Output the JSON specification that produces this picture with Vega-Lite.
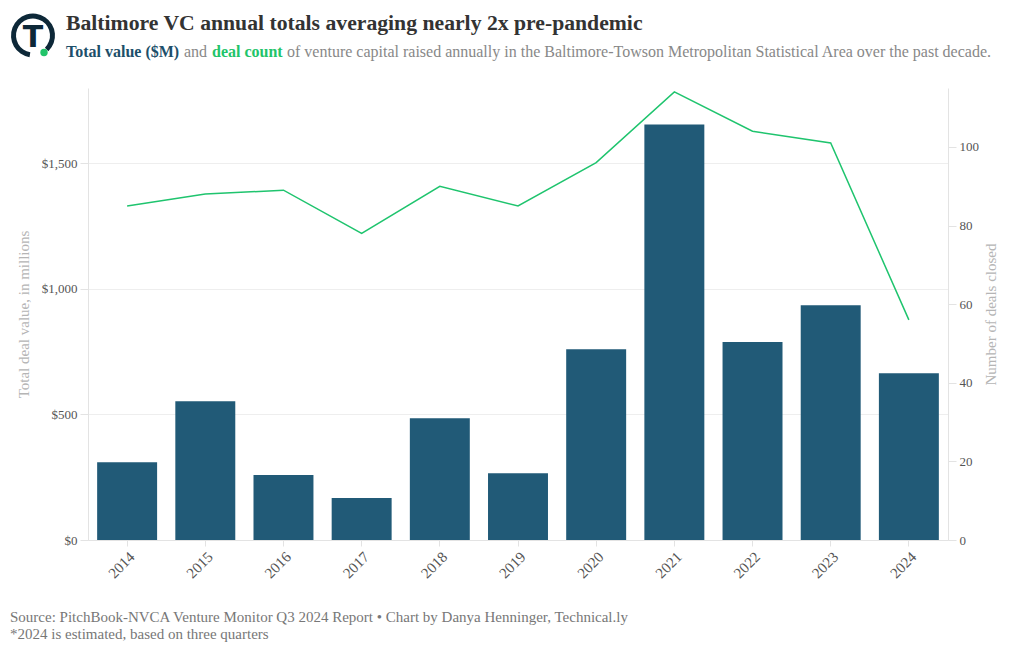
{
  "$schema": "https://vega.github.io/schema/vega-lite/v6.json",
  "padding": {"left": 10, "top": 12, "right": 12, "bottom": 4},
  "config": {
    "view": {"stroke": null},
    "font": "Liberation Serif",
    "axis": {"labelFont": "Liberation Serif", "titleFont": "Liberation Serif", "labelColor": "#555555", "titleColor": "#b5b5b5", "labelFontSize": 13, "titleFontSize": 15, "titleFontWeight": "normal", "domainColor": "#e3e3e3", "tickColor": "#e3e3e3", "gridColor": "#eeeeee"},
    "title": {"font": "Liberation Serif"}
  },
  "title": {
    "text": ["Source: PitchBook-NVCA Venture Monitor Q3 2024 Report • Chart by Danya Henninger, Technical.ly", "*2024 is estimated, based on three quarters"],
    "orient": "bottom", "anchor": "start", "fontSize": 15, "fontWeight": "normal", "color": "#777777", "offset": 29, "lineHeight": 17
  },
  "columns": 1,
  "spacing": 11,
  "concat": [
    {
      "spacing": 10,
      "hconcat": [
        {
          "width": 46, "height": 1,
          "data": {"values": [{}]},
          "layer": [
            {"mark": {"type": "arc", "radius": 22, "radius2": 17, "theta": 3.3, "theta2": 8.65, "color": "#0d2838", "yOffset": -2}, "encoding": {}},
            {"mark": {"type": "text", "text": "T", "font": "DejaVu Sans", "fontWeight": "bold", "fontSize": 30, "color": "#0d2838", "baseline": "middle", "align": "center", "dy": 0}, "encoding": {}},
            {"mark": {"type": "point", "filled": true, "size": 55, "color": "#22c46a", "opacity": 1, "xOffset": 11, "yOffset": 15}, "encoding": {}}
          ]
        },
        {
          "spacing": 0,
          "vconcat": [
            {"width": 1, "height": 1, "data": {"values": [{}]}, "mark": "text", "encoding": {"text": {"value": ""}},
             "title": {"text": "Baltimore VC annual totals averaging nearly 2x pre-pandemic", "fontSize": 21.7, "fontWeight": "bold", "color": "#333333", "anchor": "start", "offset": -3}},
            {
              "spacing": 4,
              "hconcat": [
                {"width": 1, "height": 1, "data": {"values": [{}]}, "mark": "text", "encoding": {"text": {"value": ""}},
                 "title": {"text": "Total value ($M)", "fontSize": 16, "fontWeight": "bold", "color": "#1d4f6a", "anchor": "start", "offset": 0}},
                {"width": 1, "height": 1, "data": {"values": [{}]}, "mark": "text", "encoding": {"text": {"value": ""}},
                 "title": {"text": "and", "fontSize": 16, "fontWeight": "normal", "color": "#888888", "anchor": "start", "offset": 0}},
                {"width": 1, "height": 1, "data": {"values": [{}]}, "mark": "text", "encoding": {"text": {"value": ""}},
                 "title": {"text": "deal count", "fontSize": 16, "fontWeight": "bold", "color": "#22c46a", "anchor": "start", "offset": 0}},
                {"width": 1, "height": 1, "data": {"values": [{}]}, "mark": "text", "encoding": {"text": {"value": ""}},
                 "title": {"text": "of venture capital raised annually in the Baltimore-Towson Metropolitan Statistical Area over the past decade.", "fontSize": 16, "fontWeight": "normal", "color": "#888888", "anchor": "start", "offset": 0}}
              ]
            }
          ]
        }
      ]
    },
    {
      "spacing": 5,
      "hconcat": [
        {"width": 1, "height": 1, "data": {"values": [{}]}, "mark": "text", "encoding": {"text": {"value": ""}}},
        {
          "width": 860, "height": 452,
          "data": {"values": [
            {"year": "2014", "value": 310, "deals": 85},
            {"year": "2015", "value": 553, "deals": 88},
            {"year": "2016", "value": 259, "deals": 89},
            {"year": "2017", "value": 167, "deals": 78},
            {"year": "2018", "value": 485, "deals": 90},
            {"year": "2019", "value": 266, "deals": 85},
            {"year": "2020", "value": 760, "deals": 96},
            {"year": "2021", "value": 1655, "deals": 114},
            {"year": "2022", "value": 788, "deals": 104},
            {"year": "2023", "value": 935, "deals": 101},
            {"year": "2024", "value": 664, "deals": 56}
          ]},
          "encoding": {
            "x": {"field": "year", "type": "ordinal", "scale": {"paddingInner": 0.233, "paddingOuter": 0.117},
                  "axis": {"title": null, "labelAngle": -45, "labelFontSize": 15, "tickSize": 6, "labelPadding": 3}}
          },
          "layer": [
            {"mark": {"type": "bar", "color": "#215a77"},
             "encoding": {"y": {"field": "value", "type": "quantitative", "scale": {"domain": [0, 1800]},
               "axis": {"title": "Total deal value, in millions", "values": [0, 500, 1000, 1500], "format": "$,.0f", "tickSize": 8, "titlePadding": 10, "labelPadding": 3}}}},
            {"mark": {"type": "line", "color": "#1fc46e", "strokeWidth": 1.5},
             "encoding": {"y": {"field": "deals", "type": "quantitative", "scale": {"domain": [0, 115]},
               "axis": {"orient": "right", "title": "Number of deals closed", "titleAngle": 270, "values": [0, 20, 40, 60, 80, 100], "grid": false, "tickSize": 8, "titlePadding": 20, "labelPadding": 3}}}}
          ],
          "resolve": {"scale": {"y": "independent"}}
        }
      ]
    }
  ]
}
